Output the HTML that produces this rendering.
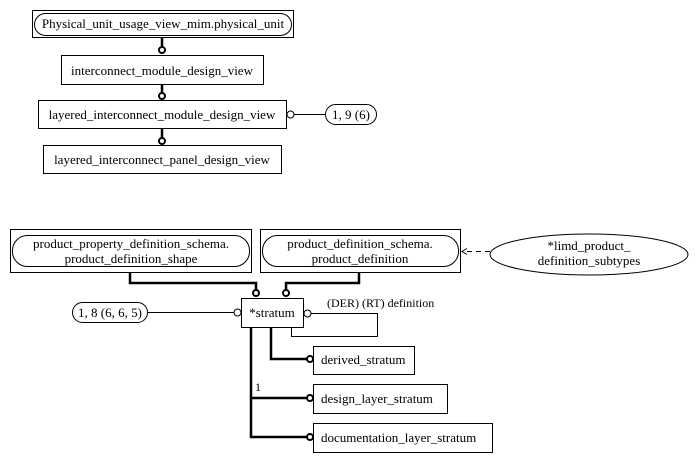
<!DOCTYPE html>
<html><head><style>body{margin:0;background:#fff}svg{display:block}</style></head><body>
<svg width="698" height="462" viewBox="0 0 698 462" xmlns="http://www.w3.org/2000/svg" font-family="'Liberation Serif',serif" font-size="13" fill="none" stroke="#000">
<g stroke-width="1">
<rect x="32.5" y="10.5" width="261" height="27"/>
<rect x="34.5" y="13.5" width="257" height="22" rx="11"/>
<rect x="61.5" y="55.5" width="202" height="29"/>
<rect x="38.5" y="100.5" width="248" height="28"/>
<rect x="43.5" y="145.5" width="238" height="28"/>
<rect x="325.5" y="104.5" width="51" height="20" rx="10"/>
<line x1="294" y1="114.5" x2="325" y2="114.5"/>
<circle cx="290.5" cy="114.5" r="3.5" fill="#fff"/>
</g>
<g stroke-width="2.5">
<line x1="162" y1="38" x2="162" y2="47"/>
<line x1="162" y1="85" x2="162" y2="93"/>
<line x1="162" y1="129" x2="162" y2="138"/>
</g>
<g stroke-width="2" fill="#fff">
<circle cx="162" cy="50" r="3"/>
<circle cx="162" cy="96" r="3"/>
<circle cx="162" cy="141" r="3"/>
</g>
<g fill="#000" stroke="none">
<text x="163" y="28" text-anchor="middle">Physical_unit_usage_view_mim.physical_unit</text>
<text x="162" y="75" text-anchor="middle">interconnect_module_design_view</text>
<text x="162" y="119" text-anchor="middle">layered_interconnect_module_design_view</text>
<text x="162" y="164" text-anchor="middle">layered_interconnect_panel_design_view</text>
<text x="351" y="119" text-anchor="middle">1, 9 (6)</text>
</g>

<g stroke-width="1">
<rect x="10.5" y="229.5" width="241" height="43"/>
<rect x="12.5" y="235.5" width="237" height="31" rx="15"/>
<rect x="260.5" y="229.5" width="200" height="43"/>
<rect x="262.5" y="235.5" width="196" height="31" rx="15"/>
<ellipse cx="589" cy="254.5" rx="99" ry="20.5"/>
<line x1="490" y1="251.5" x2="466" y2="251.5" stroke-dasharray="5,4"/>
<path d="M467 248.5 L462 251.5 L467 254.5"/>
<rect x="241.5" y="298.5" width="62" height="29"/>
<rect x="72.5" y="302.5" width="75" height="20" rx="10"/>
<line x1="148" y1="312.5" x2="234" y2="312.5"/>
<circle cx="237.5" cy="312.5" r="3.5" fill="#fff"/>
<path d="M311 313.5 H377.5 V336.5 H291.5 V328"/>
<circle cx="307.5" cy="313.5" r="3.5" fill="#fff"/>
<rect x="313.5" y="346.5" width="101" height="28"/>
<rect x="313.5" y="384.5" width="134" height="29"/>
<rect x="313.5" y="423.5" width="179" height="29"/>
</g>
<g stroke-width="2.5">
<path d="M130 273 V283 H256 V290"/>
<path d="M359 273 V283 H286 V290"/>
<path d="M271 328 V359 H307"/>
<path d="M251 328 V437 H307 M251 398 H307"/>
</g>
<g stroke-width="2" fill="#fff">
<circle cx="256" cy="293" r="3"/>
<circle cx="286" cy="293" r="3"/>
<circle cx="310" cy="359" r="3"/>
<circle cx="310" cy="398" r="3"/>
<circle cx="310" cy="437" r="3"/>
</g>
<g fill="#000" stroke="none">
<text x="131" y="248" text-anchor="middle">product_property_definition_schema.</text>
<text x="131" y="263" text-anchor="middle">product_definition_shape</text>
<text x="360" y="248" text-anchor="middle">product_definition_schema.</text>
<text x="360" y="263" text-anchor="middle">product_definition</text>
<text x="589" y="250" text-anchor="middle">*limd_product_</text>
<text x="589" y="265" text-anchor="middle">definition_subtypes</text>
<text x="272" y="317" text-anchor="middle">*stratum</text>
<text x="110" y="317" text-anchor="middle">1, 8 (6, 6, 5)</text>
<text x="327" y="307" font-size="12">(DER) (RT) definition</text>
<text x="321" y="364">derived_stratum</text>
<text x="321" y="403">design_layer_stratum</text>
<text x="321" y="442">documentation_layer_stratum</text>
<text x="255" y="391" font-size="12">1</text>
</g>
</svg>
</body></html>
